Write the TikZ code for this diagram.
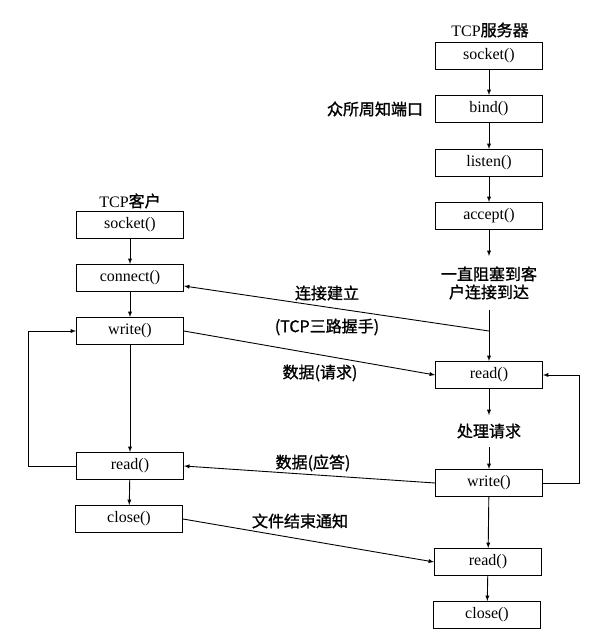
\documentclass[tikz,border=0pt]{standalone}
\usepackage{fontspec}
\setmainfont{Liberation Serif}
\newfontfamily\cjk{Noto Sans CJK SC}[FakeBold=1.2]
\usetikzlibrary{
    arrows,
    calc,
    positioning
}

\begin{document}
\begin{tikzpicture}[x=1pt, y=-1pt, >=latex, line width=0.9pt,
        font=\fontsize{16}{18}\selectfont,
        call/.style={draw, minimum width=107pt, minimum height=27pt, inner sep=0pt},
        note/.style={font=\fontsize{16}{18}\selectfont\cjk, align=center}]
    \useasboundingbox (0, 0) rectangle (604, 636);
    % client side
    \node (ct) at (130, 201) {TCP{\cjk 客户}};
    \node[call] (cs) at (130, 225) {socket()};
    \node[call] (cc) at (130, 278) {connect()};
    \node[call] (cw) at (130, 331) {write()};
    \node[call] (cr) at (130, 466) {read()};
    \node[call] (cx) at (129, 519) {close()};
    \draw (cs) edge[->] (cc);
    \draw (cc) edge[->] (cw);
    \draw (cw) edge[->] (cr);
    \draw (cr) edge[->] (cx);
    \draw[->] (cr.west) -- ++(-48, 0) |- (cw.west);
    % server side
    \node (st) at (490, 30) {TCP{\cjk 服务器}};
    \node[call] (ss) at (489, 56) {socket()};
    \node[call] (sb) at (489, 109) {bind()};
    \node[call] (sl) at (489, 163) {listen()};
    \node[call] (sa) at (489, 216) {accept()};
    \node[note, inner ysep=10pt] (sk) at (489, 283) {一直阻塞到客\\户连接到达};
    \node[call] (sr) at (489, 375) {read()};
    \node[note, inner ysep=8pt] (sp) at (489, 431) {处理请求};
    \node[call] (sw) at (489, 483) {write()};
    \node[call] (sr2) at (488, 562) {read()};
    \node[call] (sx) at (487, 615) {close()};
    \node[note] (port) at (375, 109) {众所周知端口};
    \draw (ss) edge[->] (sb);
    \draw (sb) edge[->] (sl);
    \draw (sl) edge[->] (sa);
    \draw (sa) edge[->] (sk);
    \draw (sk) edge[->] (sr);
    \draw (sr) edge[->] (sp);
    \draw (sp) edge[->] (sw);
    \draw (sw) edge[->] (sr2);
    \draw (sr2) edge[->] (sx);
    \draw[->] (sw.east) -- ++(36, 0) |- (sr.east);
    % between the two
    \coordinate (hs) at (489, 331);
    \draw (hs) edge[->] ($(cc.east)+(0, 8)$);
    \draw (cw.east) edge[->] (sr.west);
    \draw (sw.west) edge[->] (cr.east);
    \draw (cx.east) edge[->] (sr2.west);
    \node[note] (l1) at (327, 293) {连接建立};
    \node[note] (l2) at (327, 327) {(TCP三路握手)};
    \node[note] (l3) at (320, 373) {数据(请求)};
    \node[note] (l4) at (313, 463) {数据(应答)};
    \node[note] (l5) at (300, 521) {文件结束通知};
\end{tikzpicture}
\end{document}
